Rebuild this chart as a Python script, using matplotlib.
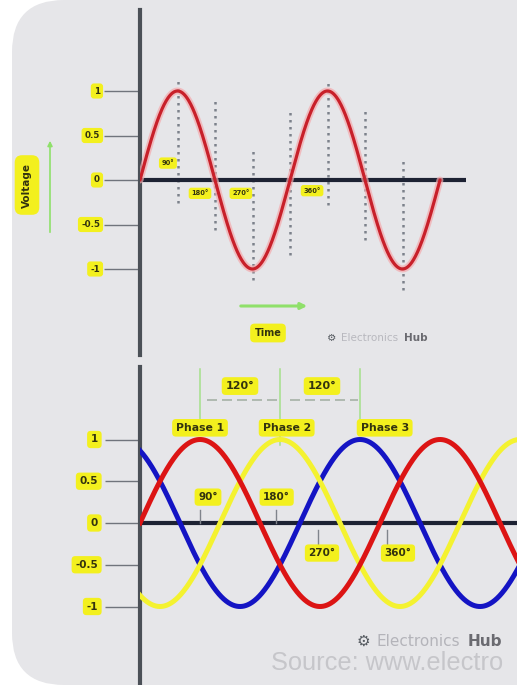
import numpy as np
import matplotlib
matplotlib.use("Agg")
import matplotlib.pyplot as plt
from matplotlib.patches import FancyBboxPatch, FancyArrowPatch
from matplotlib.transforms import IdentityTransform

# ---------------- data ----------------
top_ticks = [1, 0.5, 0, -0.5, -1]
top_tick_labels = ["1", "0.5", "0", "-0.5", "-1"]
top_amplitude = 1.0
top_cycles_deg = 720
top_marker_angles = [90, 180, 270, 360, 450, 540, 630]
top_angle_labels = ["90°", "180°", "270°", "360°"]

bottom_ticks = [1, 0.5, 0, -0.5, -1]
bottom_tick_labels = ["1", "0.5", "0", "-0.5", "-1"]
phase_names = ["Phase 1", "Phase 2", "Phase 3"]
phase_shifts_deg = [0, 120, 240]
phase_peak_angles = [90, 210, 330]
shift_labels = ["120°", "120°"]
bottom_angle_labels = ["90°", "180°", "270°", "360°"]
bottom_amplitude = 1.0
bottom_span_deg = 570

# ---------------- style ----------------
W, H = 517, 685
YELLOW = "#f3f01e"
TXT = "#33330f"
LBL_FONT = ["DejaVu Sans"]

fig = plt.figure(figsize=(W / 100, H / 100), dpi=100)
fig.patch.set_facecolor("white")
bg = FancyBboxPatch((12, 0), 720, H, boxstyle="round,pad=0,rounding_size=52",
                    fc="#e6e6e9", ec="none", transform=IdentityTransform(), zorder=-10)
fig.add_artist(bg)


def ybox(ax, s, xy, coords, size, pad=0.3, **kw):
    return ax.annotate(s, xy=xy, xycoords=coords, ha=kw.pop("ha", "center"), va="center",
                       fontsize=size, fontweight="bold", color=TXT, family=LBL_FONT,
                       bbox=dict(boxstyle=f"round,pad={pad}", fc=YELLOW, ec="none"), **kw)


def setup(ax, ticks, labels, ticklen_px, label_off_px, lsize):
    ax.set_facecolor("none")
    for s in ["top", "right", "bottom"]:
        ax.spines[s].set_visible(False)
    ax.spines["left"].set_color("#4b5057")
    ax.spines["left"].set_linewidth(3)
    ax.set_xticks([])
    ax.set_yticks(ticks)
    ax.set_yticklabels([])
    ax.tick_params(axis="y", direction="out", length=ticklen_px * 72 / 100, width=1,
                   color="#70747c")
    ax.axhline(0, color="#1d2233", lw=3, zorder=3)
    for v, s in zip(ticks, labels):
        ax.annotate(s, xy=(0, v), xycoords=("axes fraction", "data"),
                    xytext=(-label_off_px, 0), textcoords="offset pixels",
                    ha="right", va="center", fontsize=lsize, fontweight="bold", color=TXT,
                    bbox=dict(boxstyle="round,pad=0.35", fc=YELLOW, ec="none"))


# ---------------- top chart ----------------
px_per_deg_t = 300 / 720
amp_t = 89
ax1 = fig.add_axes([140 / W, 1 - 355 / H, (466 - 140) / W, (355 - 10) / H])
ax1.set_xlim(0, (466 - 140) / px_per_deg_t)
ax1.set_ylim(-(355 - 180) / amp_t, (180 - 10) / amp_t)
setup(ax1, top_ticks, top_tick_labels, 36, 40, 6.3)

th = np.linspace(0, top_cycles_deg, 600)
yt = top_amplitude * np.sin(np.radians(th))
ax1.plot(th, yt, color="#f4a9ad", lw=5, alpha=0.7, zorder=4, solid_capstyle="round")
ax1.plot(th, yt, color="#c8202a", lw=2.3, zorder=5, solid_capstyle="round")

marker_spans = [(1.12, -0.26), (0.9, -0.56), (0.34, -1.12), (0.79, -0.84),
                (1.12, -0.28), (0.79, -0.67), (0.22, -1.24)]
for a, (y0, y1) in zip(top_marker_angles, marker_spans):
    ax1.plot([a, a], [y1, y0], color="#7c818b", lw=1.8, ls=(0, (1, 1.8)), zorder=2)

top_lbl_pos = [(67, 0.19), (144, -0.15), (242, -0.15), (413, -0.12)]
for s, p in zip(top_angle_labels, top_lbl_pos):
    ybox(ax1, s, p, "data", 4.8, pad=0.4).set_zorder(6)

# Voltage label and arrows
fig.text(27 / W, 1 - 185 / H, "Voltage", rotation=90, ha="center", va="center",
         fontsize=7.5, fontweight="bold", color=TXT,
         bbox=dict(boxstyle="round,pad=0.7", fc=YELLOW, ec="none"))
fig.add_artist(FancyArrowPatch(
    (50 / W, 1 - 235 / H), (50 / W, 1 - 138 / H), transform=fig.transFigure,
    arrowstyle="-|>", mutation_scale=7, color="#8fe06a", lw=1.2))
fig.add_artist(FancyArrowPatch(
    (238 / W, 1 - 306 / H), (310 / W, 1 - 306 / H), transform=fig.transFigure,
    arrowstyle="-|>", mutation_scale=9, color="#8fe06a", lw=2.2))
fig.text(268 / W, 1 - 333 / H, "Time", ha="center", va="center",
         fontsize=7, fontweight="bold", color=TXT,
         bbox=dict(boxstyle="round,pad=0.45", fc=YELLOW, ec="none"))
fig.text(332 / W, 1 - 338 / H, "⚙", ha="center", va="center", fontsize=7.5, color="#555a60")
fig.text(341 / W, 1 - 338 / H, "Electronics", ha="left", va="center", fontsize=7.5, color="#b8b8be")
fig.text(404 / W, 1 - 338 / H, "Hub", ha="left", va="center", fontsize=7.5,
         fontweight="bold", color="#6a6a70")

# ---------------- bottom chart ----------------
px_per_deg_b = 240 / 360
amp_b = 83.5
ax2 = fig.add_axes([140 / W, 0, (W - 140) / W, (H - 367) / H])
ax2.set_xlim(0, (W - 140) / px_per_deg_b)
ax2.set_ylim(-(H - 523) / amp_b, (523 - 367) / amp_b)
setup(ax2, bottom_ticks, bottom_tick_labels, 35, 42, 7.5)

phase_colors = ["#dc1414", "#f4f230", "#1414c4"]
phase_z = [6, 5, 4]
tb = np.linspace(0, bottom_span_deg, 800)
for sh, c, z in zip(phase_shifts_deg, phase_colors, phase_z):
    ax2.plot(tb, bottom_amplitude * np.sin(np.radians(tb - sh)), color=c, lw=3.6, zorder=z)

# phase marker lines and labels
line_bottoms = [1.22, 0.93, 1.22]
for a, yb in zip(phase_peak_angles, line_bottoms):
    ax2.plot([a, a], [yb, 1.84], color="#a4e08a", lw=1.1, zorder=2)
phase_lbl_x = [90, 220, 367]
for s, x in zip(phase_names, phase_lbl_x):
    ybox(ax2, s, (x, 1.14), "data", 7.8, pad=0.35).set_zorder(8)

shift_lbl_x = [150, 273]
for s, x in zip(shift_labels, shift_lbl_x):
    ybox(ax2, s, (x, 1.64), "data", 8, pad=0.35).set_zorder(8)
for x0, x1 in [(100, 205), (225, 327)]:
    ax2.plot([x0, x1], [1.47, 1.47], color="#a6b2a6", lw=1.2, ls=(0, (6, 3)), zorder=2)

b_lbl_pos = [(102, 0.31), (205, 0.31), (273, -0.36), (387, -0.36)]
tick_marks = [(90, 0.0, 0.15), (204, 0.0, 0.15), (267, -0.08, -0.26), (370, -0.08, -0.26)]
for (a, y0, y1) in tick_marks:
    ax2.plot([a, a], [y0, y1], color="#80848c", lw=1, zorder=7)
for s, p in zip(bottom_angle_labels, b_lbl_pos):
    ybox(ax2, s, p, "data", 7.5, pad=0.35).set_zorder(8)

# watermarks
fig.text(363 / W, 1 - 641 / H, "⚙", ha="center", va="center", fontsize=11, color="#555a60")
fig.text(377 / W, 1 - 641 / H, "Electronics", ha="left", va="center", fontsize=11, color="#b4b4ba")
fig.text(468 / W, 1 - 641 / H, "Hub", ha="left", va="center", fontsize=11,
         fontweight="bold", color="#6a6a70")
fig.text(271 / W, 1 - 663 / H, "Source: www.electro", ha="left", va="center",
         fontsize=18.3, color="#c6c6ca", family=["Liberation Sans"])

fig.savefig("out.png", dpi=100, facecolor="white")
